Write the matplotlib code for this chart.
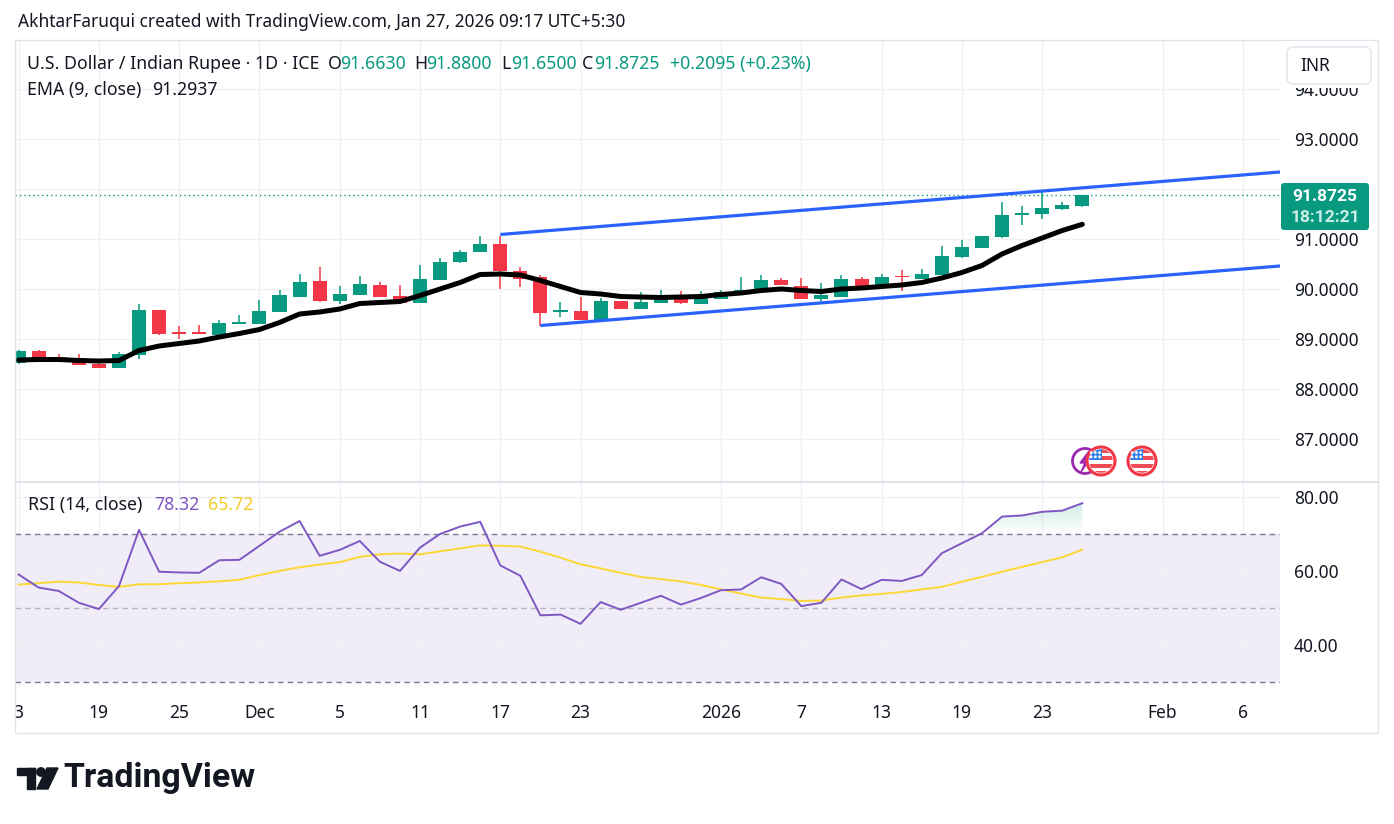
import matplotlib
matplotlib.use('Agg')
import matplotlib.pyplot as plt
from matplotlib.patches import Rectangle, FancyBboxPatch, Circle, Polygon
from matplotlib.colors import LinearSegmentedColormap
import numpy as np

plt.rcParams['font.family'] = ['Noto Sans', 'DejaVu Sans']

# ---------------- data ----------------
opens = [88.52, 88.76, 88.64, 88.62, 88.50, 88.42, 88.68, 89.58, 89.12, 89.12,
         89.08, 89.31, 89.31, 89.55, 89.85, 90.15, 89.77, 89.89, 90.09, 89.87,
         89.73, 90.19, 90.54, 90.74, 90.91, 90.37, 90.23, 89.55, 89.57, 89.39,
         89.77, 89.61, 89.73, 89.89, 89.71, 89.81, 89.93, 89.97, 90.19, 90.07,
         89.81, 89.85, 90.21, 90.07, 90.25, 90.21, 90.29, 90.65, 90.83, 91.05,
         91.49, 91.51, 91.61, 91.663]
highs = [88.78, 88.79, 88.70, 88.70, 88.59, 88.74, 89.70, 89.58, 89.26, 89.28,
         89.38, 89.48, 89.79, 89.99, 90.31, 90.45, 90.07, 90.27, 90.14, 90.09,
         90.49, 90.63, 90.79, 91.07, 91.07, 90.45, 90.28, 89.75, 89.85, 89.83,
         89.77, 89.95, 89.99, 89.97, 89.97, 89.99, 90.25, 90.29, 90.23, 90.23,
         90.13, 90.29, 90.25, 90.31, 90.39, 90.41, 90.87, 90.99, 91.07, 91.75,
         91.67, 91.97, 91.75, 91.88]
lows = [88.50, 88.62, 88.58, 88.48, 88.42, 88.42, 88.60, 89.08, 89.01, 89.11,
        89.08, 89.31, 89.31, 89.55, 89.85, 89.75, 89.71, 89.89, 89.85, 89.73,
        89.73, 90.19, 90.52, 90.74, 90.00, 90.05, 89.26, 89.45, 89.39, 89.39,
        89.61, 89.61, 89.73, 89.71, 89.71, 89.81, 89.89, 89.97, 90.09, 89.81,
        89.75, 89.85, 90.07, 90.07, 89.97, 90.21, 90.29, 90.63, 90.83, 91.03,
        91.29, 91.41, 91.59, 91.65]
closes = [88.76, 88.62, 88.60, 88.48, 88.42, 88.70, 89.58, 89.11, 89.11, 89.11,
          89.32, 89.32, 89.56, 89.87, 90.15, 89.77, 89.91, 90.09, 89.85, 89.73,
          90.21, 90.55, 90.75, 90.91, 90.36, 90.21, 89.53, 89.56, 89.39, 89.77,
          89.61, 89.75, 89.89, 89.73, 89.83, 89.95, 89.99, 90.19, 90.09, 89.81,
          89.87, 90.21, 90.07, 90.25, 90.24, 90.31, 90.67, 90.85, 91.07, 91.49,
          91.53, 91.63, 91.67, 91.8725]
ema9 = [88.58, 88.59, 88.59, 88.57, 88.56, 88.57, 88.77, 88.86, 88.91, 88.96,
        89.04, 89.11, 89.19, 89.33, 89.50, 89.54, 89.60, 89.71, 89.73, 89.75,
        89.87, 90.00, 90.13, 90.29, 90.30, 90.28, 90.17, 90.05, 89.93, 89.90,
        89.85, 89.84, 89.83, 89.84, 89.85, 89.89, 89.92, 89.97, 90.00, 89.97,
        89.95, 90.00, 90.02, 90.05, 90.08, 90.13, 90.22, 90.33, 90.47, 90.70,
        90.87, 91.02, 91.17, 91.2937]
rsi14 = [59.05, 55.5, 54.6, 51.4, 49.7, 55.9, 71.1, 59.8, 59.6, 59.5,
         62.9, 63.0, 66.8, 70.6, 73.5, 64.1, 65.7, 68.1, 62.5, 60.0,
         66.3, 70.0, 72.0, 73.3, 61.5, 58.7, 48.0, 48.2, 45.7, 51.6,
         49.5, 51.4, 53.3, 50.9, 52.7, 54.8, 55.0, 58.3, 56.5, 50.5,
         51.4, 57.7, 55.1, 57.6, 57.3, 58.9, 64.8, 67.5, 70.2, 74.7,
         75.0, 76.0, 76.3, 78.32]
rsi_ma = [56.3, 56.7, 57.1, 56.9, 56.2, 55.7, 56.4, 56.4, 56.7, 56.9,
          57.2, 57.6, 58.9, 60.0, 61.0, 61.7, 62.4, 63.8, 64.5, 64.7,
          64.5, 65.3, 66.1, 66.9, 66.8, 66.6, 65.2, 63.6, 61.8, 60.7,
          59.5, 58.4, 57.8, 57.2, 56.2, 55.0, 53.9, 52.8, 52.4, 51.9,
          52.0, 52.8, 53.4, 53.8, 54.3, 55.0, 55.7, 57.1, 58.4, 59.8,
          61.1, 62.4, 63.7, 65.72]
tick_pos = [0, 4, 8, 12, 16, 20, 24, 28, 35, 39, 43, 47, 51, 57, 61]
tick_labels = ['3', '19', '25', 'Dec', '5', '11', '17', '23', '2026', '7', '13',
               '19', '23', 'Feb', '6']
upper_channel_x = [24, 62.85]
upper_channel_y = [91.09, 92.34]
lower_channel_x = [26, 62.85]
lower_channel_y = [89.27, 90.46]
price_ticks = [87, 88, 89, 90, 91, 92, 93, 94]
hidden_price_ticks = [92]          # covered by the last-price label
rsi_ticks = [40, 60, 80]
last_close = 91.8725

# ---------------- styling ----------------
GREEN = '#089981'
RED = '#F23645'
TXT = '#131722'
GRID = '#EEF0F3'
FRAME = '#E0E3EB'

W, H = 1394, 824
fig = plt.figure(figsize=(W / 100, H / 100), dpi=100)
fig.patch.set_facecolor('white')


def fx(px):
    return px / W


def fy(py):
    return 1 - py / H


PL, PR = 15, 1280
ax = fig.add_axes([fx(PL), fy(481), fx(PR - PL), (481 - 40) / H])
rx = fig.add_axes([fx(PL), fy(686), fx(PR - PL), (686 - 483) / H], sharex=ax)

x = np.arange(len(closes))
o = np.array(opens); h = np.array(highs); l = np.array(lows); c = np.array(closes)
up = c >= o
cols = np.where(up, GREEN, RED)

ax.vlines(x, l, h, colors=cols, lw=1.1, zorder=3)
body_lo = np.minimum(o, c)
body_h = np.maximum(np.abs(c - o), 0.03)
ax.bar(x, body_h, bottom=body_lo, width=0.7, color=cols, zorder=4, linewidth=0)

ax.plot(x, ema9, color='black', lw=3.6, solid_capstyle='round', zorder=5)
ax.plot(upper_channel_x, upper_channel_y, color='#2962FF', lw=2.3, zorder=6,
        solid_capstyle='butt')
ax.plot(lower_channel_x, lower_channel_y, color='#2962FF', lw=2.3, zorder=6,
        solid_capstyle='butt')
ax.axhline(last_close, color=GREEN, lw=1.0, ls=(0, (1, 2.2)), zorder=2)

ax.set_xlim(-0.18, 62.85)
ax.set_ylim(86.16, 94.98)
ax.set_yticks(price_ticks)
ax.set_yticklabels(['' if v in hidden_price_ticks else f'{v:.4f}' for v in price_ticks])
ax.yaxis.tick_right()
ax.tick_params(axis='y', length=0, pad=10, labelsize=12.5, labelcolor=TXT)
ax.tick_params(axis='x', length=0, labelbottom=False)
ax.set_xticks(tick_pos)
ax.grid(True, color=GRID, lw=1)
for s in ax.spines.values():
    s.set_visible(False)

# RSI pane
rsi = np.array(rsi14)
rx.axhspan(30, 70, color='#7E57C2', alpha=0.10, lw=0, zorder=0)
rx.axhline(70, color='#787B86', lw=1.0, ls=(0, (4, 3)), zorder=1)
rx.axhline(30, color='#787B86', lw=1.0, ls=(0, (4, 3)), zorder=1)
rx.axhline(50, color='#787B86', lw=1.0, ls=(0, (4, 3)), alpha=0.5, zorder=1)

coll = rx.fill_between(x, 70, rsi, where=rsi >= 70, interpolate=True,
                       color='none', lw=0)
cmap = LinearSegmentedColormap.from_list(
    'g', [(0.03, 0.6, 0.5, 0.0), (0.03, 0.6, 0.5, 0.22)])
grad = np.linspace(0, 1, 256).reshape(-1, 1)
for path in coll.get_paths():
    im = rx.imshow(grad, extent=[-1, 64, 70, 80], origin='lower', cmap=cmap,
                   aspect='auto', zorder=1, interpolation='bicubic')
    im.set_clip_path(path, transform=rx.transData)

rx.plot(x, rsi, color='#7E57C2', lw=1.4, zorder=3)
rx.plot(x, rsi_ma, color='#FDD835', lw=1.4, zorder=2)
rx.set_xlim(-0.18, 62.85)
rx.set_ylim(28.9, 83.78)
rx.set_yticks(rsi_ticks)
rx.set_yticklabels([f'{v:.2f}' for v in rsi_ticks])
rx.yaxis.tick_right()
rx.tick_params(axis='y', length=0, pad=10, labelsize=12.5, labelcolor=TXT)
rx.set_xticks(tick_pos)
rx.set_xticklabels(tick_labels)
rx.tick_params(axis='x', length=0, pad=13, labelsize=12.5, labelcolor=TXT)
for lab in rx.get_xticklabels():
    if lab.get_text() == '2026':
        lab.set_fontweight('bold')
rx.grid(True, color=GRID, lw=1)
rx.set_axisbelow(True)
for s in rx.spines.values():
    s.set_visible(False)

# ---------------- overlay (pixel coordinates) ----------------
ov = fig.add_axes([0, 0, 1, 1], zorder=10)
ov.set_xlim(0, W)
ov.set_ylim(H, 0)
ov.patch.set_alpha(0)
ov.axis('off')
renderer = fig.canvas.get_renderer()


def put(xp, yp, s, size=12.5, color=TXT, weight='normal', ha='left', target=None, **kw):
    t = ov.text(xp, yp, s, fontsize=size, color=color, fontweight=weight, ha=ha,
                va='center', **kw)
    if target:
        w = t.get_window_extent(renderer).width
        t.set_fontsize(size * target / w)
    return t


# frame
ov.add_patch(Rectangle((15, 40), 1363, 693, fill=False, edgecolor=FRAME, lw=1))
ov.plot([15, 1378], [482, 482], color=FRAME, lw=1.5)

# header
put(18, 22, 'AkhtarFaruqui created with TradingView.com, Jan 27, 2026 09:17 UTC+5:30',
    target=608)

t0 = put(27, 64, 'U.S. Dollar / Indian Rupee · 1D · ICE', target=291)
fs = t0.get_fontsize()
pieces = [('O', 328, TXT), ('91.6630', 340, GREEN), ('H', 414, TXT),
          ('91.8800', 426, GREEN), ('L', 501, TXT), ('91.6500', 511, GREEN),
          ('C', 582, TXT), ('91.8725', 594, GREEN), ('+0.2095 (+0.23%)', 670, GREEN)]
for s, xp, col in pieces:
    put(xp, 64, s, size=fs, color=col)
put(27, 90, 'EMA (9, close)', size=fs)
put(152, 90, '91.2937', size=fs)

put(28, 505, 'RSI (14, close)', size=fs)
put(154, 505, '78.32', size=fs, color='#7E57C2')
put(208, 505, '65.72', size=fs, color='#F5CB2B')

# price-scale header area (hides the upper part of the top scale label) + INR box
ov.add_patch(Rectangle((1281, 41), 96, 47, facecolor='white', edgecolor='none'))
ov.add_patch(FancyBboxPatch((1290, 50), 78, 31, boxstyle='round,pad=3,rounding_size=6',
                            facecolor='white', edgecolor=FRAME, lw=1))
put(1300, 66, 'INR', size=12.5)

# last price label
ov.add_patch(FancyBboxPatch((1282, 184), 86, 45, boxstyle='round,pad=1,rounding_size=3',
                            facecolor=GREEN, edgecolor='none'))
put(1325, 196, '91.8725', size=12.5, color='white', weight='bold', ha='center',
    family=['Roboto', 'DejaVu Sans'])
put(1325, 217, '18:12:21', size=12.5, color='#CDEFE6', weight='bold', ha='center',
    family=['Roboto', 'DejaVu Sans'])


# event icons
def flag(cx, cy, r=14):
    ov.add_patch(Circle((cx, cy), r, facecolor='white', edgecolor=RED, lw=2.2, zorder=3))
    clip = Circle((cx, cy), r - 2.2, transform=ov.transData)
    bands = [
        (cx - r, cy - r, r * 1.05, r * 0.9, '#2F80ED'),
        (cx + 0.05 * r, cy - r, r, r * 0.4, '#F04B55'),
        (cx + 0.05 * r, cy - 0.35 * r, r, r * 0.25, '#F04B55'),
        (cx - r, cy + 0.2 * r, 2 * r, r * 0.3, '#F04B55'),
        (cx - r, cy + 0.7 * r, 2 * r, r * 0.3, '#F04B55'),
    ]
    for bx, by, bw, bh, bc in bands:
        rp = Rectangle((bx, by), bw, bh, facecolor=bc, edgecolor='none', zorder=4)
        ov.add_patch(rp)
        rp.set_clip_path(clip)
    for dx in (-0.7, -0.4, -0.1):
        for dy in (-0.6, -0.3):
            ov.add_patch(Circle((cx + dx * r, cy + dy * r), 0.7, color='white', zorder=5))


ov.add_patch(Circle((1085, 461), 12.5, facecolor='white', edgecolor='#9C27B0', lw=2, zorder=2))
ov.add_patch(Polygon([(1089, 451), (1080, 463), (1085, 463), (1081, 472), (1090, 459),
                      (1085, 459)], closed=True, color='#9C27B0', zorder=2))
flag(1101, 461)
flag(1142, 461)

# TradingView logo
ov.add_patch(Rectangle((17, 768), 18, 7, color=TXT))
ov.add_patch(Rectangle((27, 768), 8, 21, color=TXT))
ov.add_patch(Circle((41, 772), 4.2, color=TXT))
ov.add_patch(Polygon([(47, 768), (58, 768), (48, 789), (37, 789)], closed=True, color=TXT))
put(63, 778, 'TradingView', size=22, weight='bold', target=192,
    family=['Roboto', 'DejaVu Sans'])

fig.savefig('out.png', dpi=100, facecolor='white')
